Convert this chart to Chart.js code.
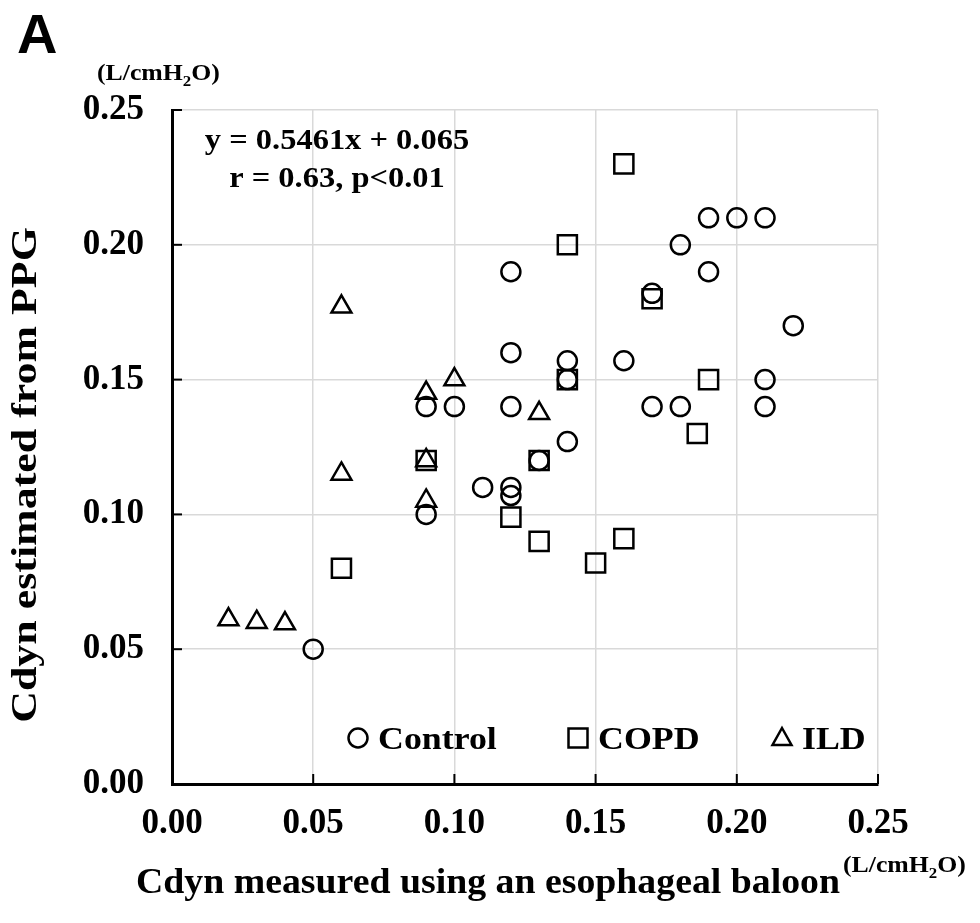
<!DOCTYPE html>
<html>
<head>
<meta charset="utf-8">
<script src="https://cdn.jsdelivr.net/npm/chart.js@4.4.0/dist/chart.umd.min.js"></script>
<style>
  body { margin: 0; background: #fff; }
  #wrap { width: 980px; height: 923px; }
</style>
</head>
<body>
<div id="wrap"><canvas id="grafico"></canvas></div>
<script>
// data
const controlX = [0.05, 0.09, 0.09, 0.10, 0.11, 0.12, 0.12, 0.12, 0.12, 0.12, 0.13, 0.14, 0.14, 0.14, 0.16, 0.17, 0.17, 0.18, 0.18, 0.19, 0.19, 0.20, 0.21, 0.21, 0.21, 0.22];
const controlY = [0.050, 0.100, 0.140, 0.140, 0.110, 0.107, 0.110, 0.140, 0.160, 0.190, 0.120, 0.127, 0.150, 0.157, 0.157, 0.140, 0.182, 0.140, 0.200, 0.190, 0.210, 0.210, 0.210, 0.150, 0.140, 0.170];

const copdX = [0.06, 0.09, 0.12, 0.13, 0.13, 0.14, 0.14, 0.15, 0.16, 0.16, 0.17, 0.186, 0.19];
const copdY = [0.080, 0.120, 0.099, 0.090, 0.120, 0.150, 0.200, 0.082, 0.091, 0.230, 0.180, 0.130, 0.150];

const ildX = [0.02, 0.03, 0.04, 0.06, 0.06, 0.09, 0.09, 0.09, 0.10, 0.13];
const ildY = [0.061, 0.060, 0.0595, 0.115, 0.177, 0.105, 0.120, 0.145, 0.150, 0.1375];

const etiquetas = ['Control', 'COPD', 'ILD'];
const ecuacion = ['y = 0.5461x + 0.065', 'r = 0.63, p<0.01'];
const tituloX = 'Cdyn measured using an esophageal baloon';
const tituloY = 'Cdyn estimated from PPG';

const serif = '"Liberation Serif", "Times New Roman", serif';

function puntos(xs, ys) {
    return xs.map((x, i) => ({ x: x, y: ys[i] }));
}

// texto un poco ensanchado, como en la figura original
function texto(ctx, str, x, y, size, sx, align, rot) {
    ctx.save();
    ctx.translate(x, y);
    if (rot) ctx.rotate(rot);
    ctx.scale(sx, 1);
    ctx.font = 'bold ' + size + 'px ' + serif;
    ctx.textAlign = align;
    ctx.textBaseline = 'middle';
    ctx.fillText(str, 0, 0);
    ctx.restore();
}

// unidades con subindice
function unidad(ctx, x, y) {
    ctx.save();
    ctx.translate(x, y);
    ctx.scale(1.12, 1);
    ctx.textAlign = 'left';
    ctx.textBaseline = 'alphabetic';
    ctx.font = 'bold 23px ' + serif;
    ctx.fillText('(L/cmH', 0, 0);
    let w = ctx.measureText('(L/cmH').width;
    ctx.font = 'bold 15px ' + serif;
    ctx.fillText('2', w, 6);
    w += ctx.measureText('2').width;
    ctx.font = 'bold 23px ' + serif;
    ctx.fillText('O)', w, 0);
    ctx.restore();
}

function marca(ctx, estilo, x, y) {
    ctx.beginPath();
    if (estilo === 'circle') {
        ctx.arc(x, y, 9.5, 0, Math.PI * 2);
    } else if (estilo === 'rect') {
        ctx.rect(x - 9.5, y - 9.5, 19, 19);
    } else {
        ctx.moveTo(x, y - 10);
        ctx.lineTo(x + 9.5, y + 7);
        ctx.lineTo(x - 9.5, y + 7);
        ctx.closePath();
    }
    ctx.stroke();
}

const extras = {
    id: 'extras',
    afterDraw(chart) {
        const ctx = chart.ctx;
        const xs = chart.scales.x, ys = chart.scales.y;
        ctx.save();
        ctx.fillStyle = '#000';
        ctx.strokeStyle = '#000';

        // ticks hacia adentro
        ctx.lineWidth = 2;
        xs.ticks.forEach(t => {
            const px = xs.getPixelForValue(t.value);
            ctx.beginPath();
            ctx.moveTo(px, ys.bottom);
            ctx.lineTo(px, ys.bottom - 10);
            ctx.stroke();
        });
        ys.ticks.forEach(t => {
            const py = ys.getPixelForValue(t.value);
            ctx.beginPath();
            ctx.moveTo(xs.left, py);
            ctx.lineTo(xs.left + 10, py);
            ctx.stroke();
        });

        // letra del panel
        ctx.font = 'bold 56px "Liberation Sans", Arial, sans-serif';
        ctx.textAlign = 'left';
        ctx.textBaseline = 'alphabetic';
        ctx.fillText('A', 17, 53);

        unidad(ctx, 97, 80);
        unidad(ctx, 843, 872);

        // titulos de ejes
        texto(ctx, tituloY, 27, 475, 36, 1.22, 'center', -Math.PI / 2);
        texto(ctx, tituloX, 488, 884, 36, 1.05, 'center', 0);

        // ecuacion de regresion
        texto(ctx, ecuacion[0], 337, 142, 29, 1.12, 'center', 0);
        texto(ctx, ecuacion[1], 337, 180, 29, 1.12, 'center', 0);

        // leyenda
        const estilos = ['circle', 'rect', 'triangle'];
        const posX = [358, 578, 782];
        ctx.lineWidth = 2.5;
        etiquetas.forEach((e, i) => {
            marca(ctx, estilos[i], posX[i], 738);
            texto(ctx, e, posX[i] + 20, 741, 32, 1.12, 'left', 0);
        });
        ctx.restore();
    }
};

const base = {
    backgroundColor: 'rgba(0,0,0,0)',
    borderColor: '#000',
    borderWidth: 2.5,
    pointHoverRadius: 10
};

const data = {
    datasets: [
        Object.assign({}, base, { label: etiquetas[0], data: puntos(controlX, controlY), pointStyle: 'circle', pointRadius: 9.5 }),
        Object.assign({}, base, { label: etiquetas[1], data: puntos(copdX, copdY), pointStyle: 'rect', pointRadius: 13.5 }),
        Object.assign({}, base, { label: etiquetas[2], data: puntos(ildX, ildY), pointStyle: 'triangle', pointRadius: 11.5 })
    ]
};

const config = {
    type: 'scatter',
    data: data,
    options: {
        responsive: true,
        maintainAspectRatio: false,
        animation: false,
        layout: { padding: { top: 110, right: 102, bottom: 69, left: 0 } },
        plugins: {
            legend: { display: false },
            tooltip: { enabled: false }
        },
        scales: {
            x: {
                type: 'linear',
                min: 0,
                max: 0.25,
                afterFit: s => { s.height = 70; },
                ticks: {
                    stepSize: 0.05,
                    color: '#000',
                    padding: 19,
                    font: { family: serif, size: 35, weight: 'bold' },
                    callback: v => v.toFixed(2)
                },
                grid: { color: '#d9d9d9', lineWidth: 1.5, drawTicks: false },
                border: { color: '#000', width: 3 }
            },
            y: {
                type: 'linear',
                min: 0,
                max: 0.25,
                afterFit: s => { s.width = 172; },
                ticks: {
                    stepSize: 0.05,
                    color: '#000',
                    padding: 28,
                    font: { family: serif, size: 35, weight: 'bold' },
                    callback: v => v.toFixed(2)
                },
                grid: { color: '#d9d9d9', lineWidth: 1.5, drawTicks: false },
                border: { color: '#000', width: 3 }
            }
        }
    },
    plugins: [extras]
};

const grafico = new Chart(document.getElementById('grafico').getContext('2d'), config);
</script>
</body>
</html>
